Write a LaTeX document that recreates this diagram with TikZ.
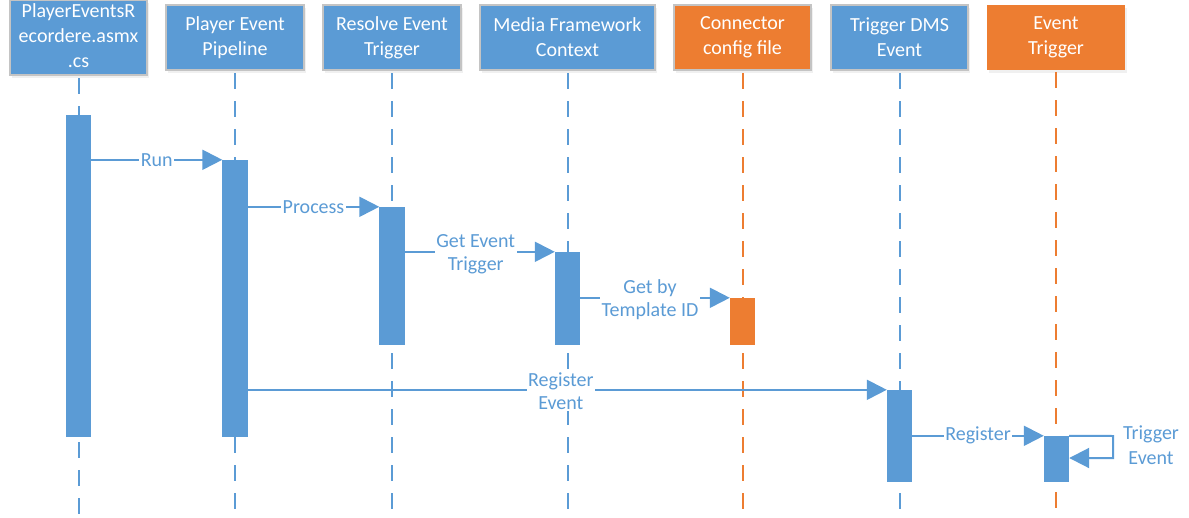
\documentclass[tikz,border=0pt]{standalone}
\usepackage{fontspec}
\setmainfont{Carlito}
\usetikzlibrary{arrows.meta,shadows}
\definecolor{vblue}{HTML}{5B9BD5}
\definecolor{vorange}{HTML}{ED7D31}
\definecolor{vgray}{HTML}{C4C4C4}
\tikzset{
  head/.style={minimum height=65pt, inner sep=0pt, text=white, align=center,
    font=\fontsize{20}{25}\selectfont,
    drop shadow={opacity=0.12, shadow xshift=1.5pt, shadow yshift=-2.5pt}},
  bluehead/.style={head, fill=vblue, draw=vgray, line width=2pt},
  orangehead/.style={head, fill=vorange, draw=vgray, line width=2pt},
  orangeplain/.style={head, fill=vorange},
  life/.style={line width=2pt, dash pattern=on 16pt off 12pt, dash phase=-2pt},
  bar/.style={minimum width=25pt, inner sep=0pt, draw=none},
  msg/.style={vblue, line width=2pt, -{Triangle[length=20pt,width=20pt]}},
  lbl/.style={text=vblue, fill=white, inner sep=1.5pt, align=center,
    font=\fontsize{20}{23}\selectfont},
  lblplain/.style={text=vblue, inner sep=1pt, align=center,
    font=\fontsize{20}{25}\selectfont}
}
\begin{document}
\begin{tikzpicture}[x=1pt,y=-1pt]
\useasboundingbox (0,0) rectangle (1189,517);
% heads
\node[bluehead, minimum width=137pt] (h1) at (78.5,37.5) {\raisebox{-2pt}{\begin{tabular}{@{}c@{}}PlayerEventsR\\ecordere.asmx\\.cs\end{tabular}}};
\node[bluehead, minimum width=138pt] (h2) at (235,37.5) {Player Event\\Pipeline};
\node[bluehead, minimum width=138pt] (h3) at (392,37.5) {Resolve Event\\Trigger};
\node[bluehead, minimum width=175pt] (h4) at (567.5,37.5) {Media Framework\\Context};
\node[orangehead, minimum width=137pt] (h5) at (742.5,37.5) {Connector\\config file};
\node[bluehead, minimum width=137pt] (h6) at (899.5,37.5) {Trigger DMS\\Event};
\node[orangeplain, minimum width=138pt] (h7) at (1056,37.5) {Event\\Trigger};
\coordinate (bottom) at (0,517);
% lifelines
\draw[life, vblue] (h1.south) -- (h1.south |- bottom);
\draw[life, vblue] (h2.south) -- (h2.south |- bottom);
\draw[life, vblue] (h3.south) -- (h3.south |- bottom);
\draw[life, vblue] (h4.south) -- (h4.south |- bottom);
\draw[life, vorange] (h5.south) -- (h5.south |- bottom);
\draw[life, vblue] (h6.south) -- (h6.south |- bottom);
\draw[life, vorange] (h7.south) -- (h7.south |- bottom);
% activation bars (positions only; filled later on top)
\path (78.5,276) node[bar, minimum height=322pt] (a1) {};
\path (235,298.5) node[bar, minimum height=277pt] (a2) {};
\path (392,276) node[bar, minimum height=138pt] (a3) {};
\path (567.5,298.5) node[bar, minimum height=93pt] (a4) {};
\path (742.5,321.5) node[bar, minimum height=47pt] (a5) {};
\path (899.5,436) node[bar, minimum height=92pt] (a6) {};
\path (1056.5,459) node[bar, minimum height=46pt] (a7) {};
% messages
\draw[msg] (a1.east |- a2.north) -- node[lbl] {Run} (a2.north west);
\draw[msg] (a2.east |- a3.north) -- node[lbl] {Process} (a3.north west);
\draw[msg] (a3.east |- a4.north) -- node[lbl, xshift=-4pt, yshift=-2pt] {Get Event\\Trigger} (a4.north west);
\draw[msg] (a4.east |- a5.north) -- node[lbl, xshift=-5pt, yshift=-2pt] {Get by\\Template ID} (a5.north west);
\draw[msg] (a2.east |- a6.north) -- node[lbl, pos=0.49, yshift=-1pt] {Register\\Event} (a6.north west);
\draw[msg] (a6.east |- a7.north) -- node[lbl] {Register} (a7.north west);
\coordinate (loopa) at (1113,436);
\coordinate (loopb) at (1113,458);
\draw[msg] (a7.north east) -- (loopa) -- (loopb) -- (a7.east |- loopb);
\node[lblplain] (tl) at (1151,445) {Trigger\\Event};
% bars on top
\fill[vblue] (a1.north west) rectangle (a1.south east);
\fill[vblue] (a2.north west) rectangle (a2.south east);
\fill[vblue] (a3.north west) rectangle (a3.south east);
\fill[vblue] (a4.north west) rectangle (a4.south east);
\fill[vorange] (a5.north west) rectangle (a5.south east);
\fill[vblue] (a6.north west) rectangle (a6.south east);
\fill[vblue] (a7.north west) rectangle (a7.south east);
\end{tikzpicture}
\end{document}
